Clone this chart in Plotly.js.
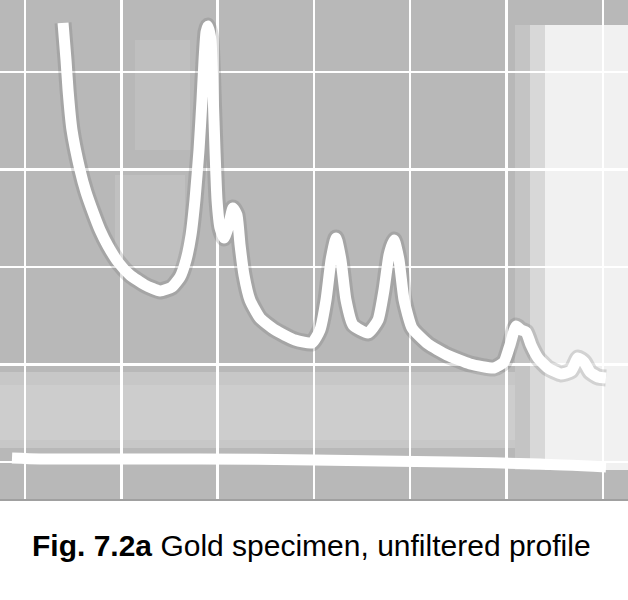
<!DOCTYPE html>
<html>
<head>
<meta charset="utf-8">
<script src="https://cdn.plot.ly/plotly-3.0.1.min.js"></script>
<style>
  html, body { margin: 0; padding: 0; background: #ffffff; }
  #chart { width: 628px; height: 600px; }
</style>
</head>
<body>
<div id="chart"></div>
<script>
// Trace of the recorder profile, in grid divisions (x: horizontal divisions, y: vertical divisions above baseline)
var profileX = [0.395, 0.426, 0.447, 0.488, 0.571, 0.633, 0.706, 0.779, 0.862, 0.966,
                1.090, 1.246, 1.402, 1.526, 1.610, 1.672, 1.724, 1.765, 1.807, 1.838,
                1.859, 1.880, 1.900, 1.931, 1.952, 1.973, 1.994, 2.025, 2.066, 2.108,
                2.160, 2.201, 2.233, 2.274, 2.336, 2.440, 2.596, 2.804, 2.980, 3.063,
                3.126, 3.178, 3.230, 3.281, 3.333, 3.406, 3.562, 3.666, 3.728, 3.780,
                3.832, 3.884, 3.936, 4.019, 4.185, 4.382, 4.621, 4.870, 4.974, 5.036,
                5.099, 5.151, 5.203, 5.255, 5.327, 5.431, 5.566, 5.670, 5.743, 5.805,
                5.867, 5.950, 6.033];
var profileY = [4.503, 4.123, 3.815, 3.405, 2.995, 2.769, 2.564, 2.379, 2.215, 2.051,
                1.918, 1.815, 1.754, 1.795, 1.897, 2.072, 2.328, 2.687, 3.200, 3.713,
                4.123, 4.410, 4.472, 4.328, 3.815, 3.200, 2.687, 2.400, 2.297, 2.400,
                2.605, 2.533, 2.226, 1.918, 1.662, 1.477, 1.354, 1.251, 1.221, 1.354,
                1.662, 2.072, 2.297, 2.072, 1.662, 1.405, 1.323, 1.456, 1.764, 2.123,
                2.277, 2.072, 1.662, 1.374, 1.210, 1.097, 1.005, 0.964, 1.026, 1.200,
                1.395, 1.354, 1.333, 1.200, 1.067, 0.964, 0.903, 0.933, 1.067, 1.026,
                0.923, 0.872, 0.862];

// Zero (baseline) trace
var baseX = [-0.135, 0.156, 1.817, 3.001, 4.413, 5.348, 6.033];
var baseY = [0.041, 0.031, 0.031, 0.021, 0.000, -0.021, -0.051];

var captionBold = "Fig. 7.2a";
var captionText = "Gold specimen, unfiltered profile";

var traces = [
  { // soft dark halo around the trace
    x: profileX, y: profileY, type: 'scatter', mode: 'lines',
    line: { color: 'rgba(100,100,100,0.22)', width: 17, shape: 'spline', smoothing: 0.5 },
    hoverinfo: 'skip'
  },
  {
    x: baseX, y: baseY, type: 'scatter', mode: 'lines',
    line: { color: '#ffffff', width: 11, shape: 'spline', smoothing: 0.6 },
    hoverinfo: 'skip'
  },
  {
    x: profileX, y: profileY, type: 'scatter', mode: 'lines',
    line: { color: '#ffffff', width: 11, shape: 'spline', smoothing: 0.5 },
    hoverinfo: 'skip'
  }
];

function px2paperX(p) { return p / 628; }
function px2paperY(p) { return (500 - p) / 500; }

function lightRect(x0, x1, y0, y1, a) {
  return { type: 'rect', xref: 'paper', yref: 'paper', layer: 'below',
    x0: px2paperX(x0), x1: px2paperX(x1), y0: px2paperY(y1), y1: px2paperY(y0),
    fillcolor: 'rgba(255,255,255,' + a + ')', line: { width: 0 } };
}

var layout = {
  width: 628, height: 600,
  margin: { l: 0, r: 0, t: 0, b: 100, pad: 0 },
  paper_bgcolor: '#ffffff',
  plot_bgcolor: '#b8b8b8',
  showlegend: false,
  xaxis: {
    range: [-0.2596, 6.2617], tick0: 0, dtick: 1,
    showgrid: true, gridcolor: '#ffffff', gridwidth: 2.5,
    zeroline: false, showticklabels: false, ticks: '', showline: false, fixedrange: true
  },
  yaxis: {
    range: [-0.390, 4.738], tick0: 0, dtick: 1,
    showgrid: true, gridcolor: '#ffffff', gridwidth: 2.5,
    zeroline: false, showticklabels: false, ticks: '', showline: false, fixedrange: true
  },
  shapes: [
    // lighter right-hand area of the scan (stepped to soften the edge)
    lightRect(515, 530, 25, 470, 0.18),
    lightRect(530, 545, 25, 470, 0.45),
    lightRect(545, 628, 25, 470, 0.8),
    // lighter lower band on the left
    lightRect(0, 515, 372, 448, 0.22),
    lightRect(0, 515, 385, 440, 0.12),
    // faint light patches inside the curve loops
    lightRect(115, 185, 175, 265, 0.12),
    lightRect(135, 190, 40, 150, 0.1),
    // bottom edge of the scan
    { type: 'line', xref: 'paper', yref: 'paper',
      x0: 0, x1: 1, y0: 0, y1: 0,
      line: { color: '#a0a0a0', width: 2 } }
  ],
  annotations: [
    { xref: 'paper', yref: 'paper', x: 311 / 628, y: -(545 - 500) / 500,
      xanchor: 'center', yanchor: 'middle', showarrow: false,
      text: '<b>' + captionBold + '</b> ' + captionText,
      font: { family: 'Liberation Sans, Arial, sans-serif', size: 30, color: '#000000' } }
  ]
};

Plotly.newPlot('chart', traces, layout, { staticPlot: true, displayModeBar: false });
</script>
</body>
</html>
